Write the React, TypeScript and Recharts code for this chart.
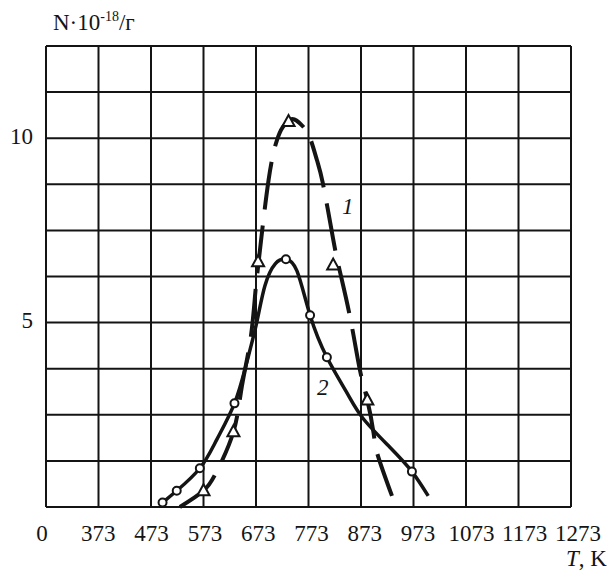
import React from "react";
import {
  ComposedChart,
  Line,
  Scatter,
  XAxis,
  YAxis,
  CartesianGrid,
} from "recharts";

// temperature ticks (K); 273 is shown as "0"
const xTicks = [273, 373, 473, 573, 673, 773, 873, 973, 1073, 1173, 1273];
const yTicks = [0, 1.25, 2.5, 3.75, 5, 6.25, 7.5, 8.75, 10, 11.25, 12.5];
const yLabels = [5, 10];

// curve 1 (dashed)
const curve1 = [
  { t: 528, n: 0.0 },
  { t: 573, n: 0.44 },
  { t: 598, n: 0.96 },
  { t: 630, n: 2.04 },
  { t: 646, n: 3.26 },
  { t: 662, n: 4.5 },
  { t: 671, n: 5.7 },
  { t: 678, n: 6.65 },
  { t: 697, n: 8.87 },
  { t: 713, n: 9.95 },
  { t: 724, n: 10.3 },
  { t: 738, n: 10.5 },
  { t: 750, n: 10.48 },
  { t: 763, n: 10.31 },
  { t: 776, n: 10.0 },
  { t: 789, n: 9.41 },
  { t: 800, n: 8.8 },
  { t: 817, n: 7.5 },
  { t: 830, n: 6.56 },
  { t: 852, n: 5.16 },
  { t: 871, n: 3.71 },
  { t: 885, n: 2.9 },
  { t: 897, n: 2.0 },
  { t: 905, n: 1.4 },
  { t: 932, n: 0.3 },
];
const triangles1 = [
  { t: 573, n: 0.44 },
  { t: 630, n: 2.04 },
  { t: 677, n: 6.65 },
  { t: 735, n: 10.45 },
  { t: 820, n: 6.56 },
  { t: 885, n: 2.9 },
];

// curve 2 (solid)
const curve2 = [
  { t: 495, n: 0.12 },
  { t: 522, n: 0.44 },
  { t: 566, n: 1.05 },
  { t: 598, n: 1.82 },
  { t: 632, n: 2.81 },
  { t: 655, n: 3.9 },
  { t: 674, n: 4.98 },
  { t: 690, n: 6.0 },
  { t: 710, n: 6.6 },
  { t: 730, n: 6.72 },
  { t: 751, n: 6.4 },
  { t: 776, n: 5.2 },
  { t: 808, n: 4.06 },
  { t: 846, n: 3.1 },
  { t: 877, n: 2.4 },
  { t: 928, n: 1.62 },
  { t: 970, n: 0.96 },
  { t: 1001, n: 0.3 },
];
const circles2 = [
  { t: 495, n: 0.12 },
  { t: 522, n: 0.44 },
  { t: 566, n: 1.05 },
  { t: 632, n: 2.81 },
  { t: 730, n: 6.72 },
  { t: 776, n: 5.2 },
  { t: 808, n: 4.06 },
  { t: 970, n: 0.96 },
];

const INK = "#141414";
const FONT = "Liberation Serif, serif";

const XTick = (props: any) => {
  const { x, payload, index } = props;
  const dx = index === 0 ? -4 : -1 + index * 0.8;
  return (
    <text x={x + dx} y={541} textAnchor="middle" fontFamily={FONT} fontSize={23} fill={INK}>
      {payload.value === 273 ? "0" : payload.value}
    </text>
  );
};

const YTick = (props: any) => {
  const { y, payload } = props;
  if (!yLabels.includes(payload.value)) return null;
  return (
    <text x={33} y={y + 5.5} textAnchor="end" fontFamily={FONT} fontSize={23} fill={INK}>
      {payload.value}
    </text>
  );
};

const Triangle = (p: any) => {
  const { cx, cy } = p;
  const h = 11;
  const w = 12;
  return (
    <polygon
      points={`${cx},${cy - h * 0.6} ${cx - w / 2},${cy + h * 0.4} ${cx + w / 2},${cy + h * 0.4}`}
      fill="#fff"
      stroke={INK}
      strokeWidth={2}
    />
  );
};

const Circle = (p: any) => (
  <circle cx={p.cx} cy={p.cy} r={4} fill="#fff" stroke={INK} strokeWidth={2} />
);

const textStyle: React.CSSProperties = {
  position: "absolute",
  fontFamily: FONT,
  fontSize: 23,
  lineHeight: "23px",
  color: INK,
  whiteSpace: "nowrap",
};

export default function App() {
  return (
    <div style={{ position: "absolute", left: 0, top: 0, width: 607, height: 570, background: "#fff" }}>
      <ComposedChart width={607} height={570} margin={{ top: 46, right: 36, bottom: 0, left: 0 }}>
        <CartesianGrid stroke={INK} strokeWidth={2} />
        <XAxis
          dataKey="t"
          type="number"
          domain={[273, 1273]}
          ticks={xTicks}
          height={63}
          tickLine={false}
          axisLine={{ stroke: INK, strokeWidth: 2 }}
          tick={<XTick />}
          interval={0}
        />
        <YAxis
          dataKey="n"
          type="number"
          domain={[0, 12.5]}
          ticks={yTicks}
          width={46}
          tickLine={false}
          axisLine={{ stroke: INK, strokeWidth: 2 }}
          tick={<YTick />}
          interval={0}
        />
        <Line
          data={curve1}
          dataKey="n"
          type="natural"
          stroke={INK}
          strokeWidth={4}
          strokeDasharray="48 16"
          dot={false}
          isAnimationActive={false}
        />
        <Line
          data={curve2}
          dataKey="n"
          type="natural"
          stroke={INK}
          strokeWidth={3.5}
          dot={false}
          isAnimationActive={false}
        />
        <Scatter data={triangles1} dataKey="n" shape={Triangle} isAnimationActive={false} />
        <Scatter data={circles2} dataKey="n" shape={Circle} isAnimationActive={false} />
      </ComposedChart>
      <div style={{ ...textStyle, left: 53, top: 11 }}>
        N·10<sup style={{ fontSize: 14, lineHeight: "10px" }}>-18</sup>/г
      </div>
      <div style={{ ...textStyle, left: 566, top: 547 }}>
        <i>T</i>, K
      </div>
      <div style={{ ...textStyle, left: 342, top: 195, fontStyle: "italic" }}>1</div>
      <div style={{ ...textStyle, left: 317, top: 376, fontStyle: "italic" }}>2</div>
    </div>
  );
}
